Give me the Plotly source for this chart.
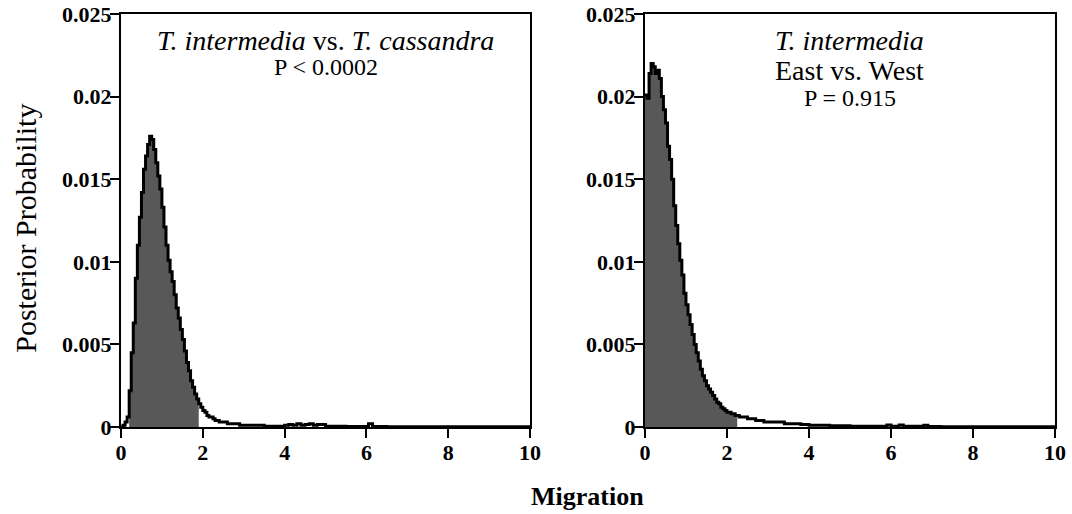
import plotly.graph_objects as go

# Data: migration bins and posterior probability
left_x = [0.00, 0.05, 0.10, 0.15, 0.20, 0.25, 0.30, 0.35, 0.40, 0.45,
          0.50, 0.55, 0.60, 0.65, 0.70, 0.75, 0.80, 0.85, 0.90, 0.95,
          1.00, 1.05, 1.10, 1.15, 1.20, 1.25, 1.30, 1.35, 1.40, 1.45,
          1.50, 1.55, 1.60, 1.65, 1.70, 1.75, 1.80, 1.85, 1.90, 1.95,
          2.00, 2.05, 2.10, 2.15, 2.20, 2.25, 2.30, 2.35, 2.40, 2.45,
          2.50, 2.60, 2.70, 2.80, 2.90, 3.00, 3.20, 3.50, 3.80, 4.00,
          4.10, 4.20, 4.30, 4.40, 4.50, 4.60, 4.70, 4.80, 5.00, 5.50,
          6.05, 6.15, 6.50, 7.00, 8.00, 9.00, 10.0]
left_y = [0.0000, 0.0001, 0.0003, 0.0006, 0.0022, 0.0045, 0.0063, 0.0090, 0.0110, 0.0127,
          0.0142, 0.0156, 0.0164, 0.0171, 0.0176, 0.0174, 0.0168, 0.0160, 0.0152, 0.0144,
          0.0133, 0.0121, 0.0110, 0.0101, 0.0094, 0.0088, 0.0080, 0.0072, 0.0066, 0.0059,
          0.0053, 0.0046, 0.0039, 0.0034, 0.0028, 0.0024, 0.0020, 0.0017, 0.0014, 0.0012,
          0.0010, 0.0009, 0.0007, 0.0006, 0.0006, 0.0005, 0.0004, 0.0004, 0.0003, 0.0003,
          0.0003, 0.0002, 0.0002, 0.0002, 0.0001, 0.0001, 0.0001, 0.00005, 0.00005, 0.0001,
          0.00015, 0.0001, 0.0002, 0.0001, 0.00015, 0.0002, 0.0001, 0.00015, 0.00005, 0.00003,
          0.0002, 0.00003, 0.00002, 0.00002, 0.00001, 0.00001, 0.0]

right_x = [0.00, 0.05, 0.10, 0.15, 0.20, 0.25, 0.30, 0.35, 0.40, 0.45,
           0.50, 0.55, 0.60, 0.65, 0.70, 0.75, 0.80, 0.85, 0.90, 0.95,
           1.00, 1.05, 1.10, 1.15, 1.20, 1.25, 1.30, 1.35, 1.40, 1.45,
           1.50, 1.55, 1.60, 1.65, 1.70, 1.75, 1.80, 1.85, 1.90, 1.95,
           2.00, 2.05, 2.10, 2.15, 2.20, 2.25, 2.30, 2.40, 2.50, 2.60,
           2.70, 2.80, 2.90, 3.00, 3.20, 3.40, 3.60, 3.80, 4.00, 4.50,
           5.00, 5.50, 5.90, 6.00, 6.20, 6.30, 6.80, 6.90, 7.20, 8.00,
           9.00, 10.0]
right_y = [0.0201, 0.0199, 0.0214, 0.0220, 0.0218, 0.0214, 0.0216, 0.0211, 0.0200, 0.0192,
           0.0184, 0.0170, 0.0162, 0.0150, 0.0134, 0.0122, 0.0111, 0.0101, 0.0092, 0.0081,
           0.0074, 0.0068, 0.0062, 0.0056, 0.0050, 0.0045, 0.0040, 0.0035, 0.0031, 0.0028,
           0.0025, 0.0023, 0.0021, 0.0019, 0.0017, 0.0015, 0.0014, 0.0012, 0.0011, 0.0010,
           0.0009, 0.0009, 0.0008, 0.0008, 0.0007, 0.0007, 0.0006, 0.0006, 0.0005, 0.0005,
           0.0004, 0.0004, 0.0003, 0.0003, 0.0003, 0.0002, 0.0002, 0.00015, 0.0001, 0.00007,
           0.00005, 0.00005, 0.00012, 0.00005, 0.00012, 0.00005, 0.0001, 0.00003, 0.00002, 0.00001,
           0.00001, 0.0]

# 95% interval bounds (shaded part)
left_hpd = [0.20, 1.90]
right_hpd = [0.00, 2.25]

x_ticks = [0, 2, 4, 6, 8, 10]
y_ticks = [0, 0.005, 0.01, 0.015, 0.02, 0.025]

font_family = "Liberation Serif"
fill_color = "#585858"

fig = go.Figure()

panels = [
    (left_x, left_y, left_hpd, "x", "y"),
    (right_x, right_y, right_hpd, "x2", "y2"),
]
for xs, ys, hpd, xa, ya in panels:
    fx = [x for x in xs if hpd[0] <= x <= hpd[1]]
    fy = [y for x, y in zip(xs, ys) if hpd[0] <= x <= hpd[1]]
    fig.add_trace(go.Scatter(
        x=fx, y=fy, mode="lines", line=dict(width=0, shape="hv"),
        fill="tozeroy", fillcolor=fill_color,
        xaxis=xa, yaxis=ya, showlegend=False, hoverinfo="skip"
    ))
    fig.add_trace(go.Scatter(
        x=xs, y=ys, mode="lines", line=dict(color="black", width=3, shape="hv"),
        xaxis=xa, yaxis=ya, showlegend=False
    ))

axis_style = dict(
    showline=True, linecolor="black", linewidth=2, mirror=True,
    ticks="outside", ticklen=9, tickwidth=2, tickcolor="black",
    showgrid=False, zeroline=False, automargin=False,
    ticklabeloverflow="allow",
    tickfont=dict(family=font_family, size=22, color="black", weight="bold"),
)
x_style = dict(axis_style, ticklabelstandoff=-4)
y_style = dict(axis_style, ticklabelstandoff=-6)

fig.update_layout(
    width=1072, height=514,
    margin=dict(l=121, r=17, t=14, b=87),
    paper_bgcolor="white", plot_bgcolor="white",
    xaxis=dict(domain=[0, 0.438], range=[0, 10], tickvals=x_ticks, anchor="y", **x_style),
    yaxis=dict(domain=[0, 1], range=[0, 0.025], tickvals=y_ticks, anchor="x", **y_style),
    xaxis2=dict(domain=[0.561, 1], range=[0, 10], tickvals=x_ticks, anchor="y2", **x_style),
    yaxis2=dict(domain=[0, 1], range=[0, 0.025], tickvals=y_ticks, anchor="x2", **y_style),
)

txt = dict(family=font_family, color="black")
annotations = [
    dict(text="<i>T. intermedia</i> vs. <i>T. cassandra</i>", x=5, y=0.0234,
         xref="x", yref="y", font=dict(size=28, **txt)),
    dict(text="P &lt; 0.0002", x=5, y=0.0218, xref="x", yref="y", font=dict(size=24, **txt)),
    dict(text="<i>T. intermedia</i>", x=5, y=0.0234, xref="x2", yref="y2", font=dict(size=28, **txt)),
    dict(text="East vs. West", x=5, y=0.0216, xref="x2", yref="y2", font=dict(size=28, **txt)),
    dict(text="P = 0.915", x=5, y=0.0199, xref="x2", yref="y2", font=dict(size=24, **txt)),
    dict(text="Posterior Probability", x=-95 / 934, y=0.48, xref="paper", yref="paper",
         xanchor="center", yanchor="middle", textangle=-90, font=dict(size=30, **txt)),
    dict(text="<b>Migration</b>", x=466 / 934, y=-69 / 413, xref="paper", yref="paper",
         xanchor="center", yanchor="middle", font=dict(size=26, **txt)),
]
for a in annotations:
    a["showarrow"] = False
fig.update_layout(annotations=annotations)

# drop the default page margin so the figure sits at the window's corner
fig.write_html("out.html", config={"displayModeBar": False},
               post_script="document.body.style.margin = '0';")
